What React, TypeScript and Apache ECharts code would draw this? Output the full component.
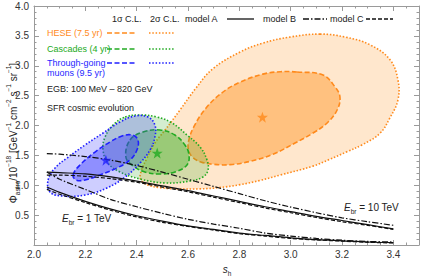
import React, { useEffect, useRef } from "react";
import * as echarts from "echarts";

// ---------- data ----------
const xTicks = [2.0, 2.2, 2.4, 2.6, 2.8, 3.0, 3.2, 3.4];
const yTicks = [0.5, 1.0, 1.5, 2.0, 2.5, 3.0, 3.5, 4.0];

const sGrid = [2.05, 2.1, 2.2, 2.3, 2.4, 2.5, 2.6, 2.7, 2.8, 2.9, 3.0, 3.1, 3.2, 3.3, 3.4];
// E_br = 10 TeV
const modelA10 = [1.22, 1.21, 1.19, 1.14, 1.07, 0.99, 0.91, 0.82, 0.73, 0.64, 0.56, 0.48, 0.41, 0.34, 0.27];
const modelB10 = [1.53, 1.52, 1.48, 1.42, 1.33, 1.22, 1.1, 0.98, 0.86, 0.74, 0.635, 0.54, 0.455, 0.39, 0.33];
const modelC10 = [1.17, 1.17, 1.15, 1.11, 1.05, 0.97, 0.89, 0.8, 0.71, 0.62, 0.54, 0.46, 0.39, 0.33, 0.26];
// E_br = 1 TeV
const modelA1 = [0.97, 0.88, 0.73, 0.6, 0.49, 0.4, 0.32, 0.26, 0.2, 0.16, 0.12, 0.09, 0.07, 0.05, 0.04];
const modelB1 = [1.22, 1.1, 0.93, 0.76, 0.64, 0.53, 0.43, 0.35, 0.28, 0.2, 0.15, 0.11, 0.08, 0.06, 0.05];
const modelC1 = [0.93, 0.85, 0.71, 0.58, 0.47, 0.38, 0.31, 0.25, 0.19, 0.15, 0.11, 0.085, 0.065, 0.045, 0.035];

// contours [s_h, Phi]
const heseTwoSigma = [
  [3.114, 3.53], [3.212, 3.48], [3.309, 3.35], [3.387, 3.1], [3.418, 2.76], [3.418, 2.43],
  [3.387, 2.13], [3.348, 1.87], [3.28, 1.68], [3.219, 1.56], [3.15, 1.43], [3.087, 1.32],
  [2.958, 1.17], [2.88, 1.08], [2.803, 1.01], [2.72, 0.96], [2.647, 0.94], [2.56, 0.94],
  [2.491, 0.96], [2.44, 1.01], [2.415, 1.1], [2.418, 1.24], [2.44, 1.45], [2.47, 1.7],
  [2.51, 1.92], [2.569, 2.26], [2.63, 2.62], [2.697, 2.95], [2.803, 3.23], [2.892, 3.38], [2.997, 3.48],
];
const heseOneSigma = [
  [3.025, 2.895], [3.126, 2.845], [3.173, 2.644], [3.192, 2.477], [3.181, 2.259], [3.142, 2.042],
  [3.087, 1.874], [3.017, 1.707], [2.931, 1.52], [2.842, 1.4], [2.764, 1.345], [2.7, 1.35],
  [2.65, 1.39], [2.618, 1.47], [2.602, 1.59], [2.603, 1.75], [2.623, 1.98], [2.668, 2.28],
  [2.73, 2.54], [2.8, 2.72], [2.892, 2.86], [2.96, 2.9],
];
const cascTwoSigma = [
  [2.355, 2.142], [2.413, 2.176], [2.479, 2.142], [2.538, 2.042], [2.596, 1.841], [2.647, 1.64],
  [2.674, 1.423], [2.678, 1.255], [2.658, 1.138], [2.608, 1.071], [2.51, 1.038], [2.413, 1.105],
  [2.335, 1.222], [2.288, 1.372], [2.269, 1.59], [2.277, 1.808], [2.308, 2.008],
];
const cascOneSigma = [
  [2.374, 1.757], [2.425, 1.891], [2.491, 1.925], [2.549, 1.841], [2.588, 1.674], [2.604, 1.506],
  [2.596, 1.339], [2.549, 1.222], [2.491, 1.188], [2.432, 1.222], [2.386, 1.322], [2.358, 1.473],
];
const muonTwoSigma = [
  [2.055, 1.088], [2.082, 1.289], [2.129, 1.456], [2.199, 1.674], [2.269, 1.874], [2.335, 2.059],
  [2.394, 2.159], [2.444, 2.142], [2.471, 2.008], [2.471, 1.808], [2.452, 1.59], [2.413, 1.372],
  [2.355, 1.138], [2.284, 0.954], [2.199, 0.837], [2.109, 0.82], [2.062, 0.887],
];
const muonOneSigma = [
  [2.152, 1.172], [2.179, 1.339], [2.238, 1.556], [2.296, 1.724], [2.343, 1.824], [2.382, 1.841],
  [2.405, 1.757], [2.401, 1.59], [2.374, 1.423], [2.323, 1.289], [2.257, 1.172], [2.199, 1.088], [2.164, 1.088],
];
const heseBest = [2.89, 2.14];
const cascBest = [2.48, 1.54];
const muonBest = [2.28, 1.42];

// ---------- styles ----------
const FONT = '"Liberation Sans", Arial, Helvetica, sans-serif';
const ORANGE = "#ff8a1c";
const GREEN = "#22aa22";
const BLUE = "#1f1fff";
const AXIS = "#9a9a9a";
const STAR = "path://M12,0 L14.9,8.1 L23.4,8.1 L16.6,13.2 L19.1,21.4 L12,16.4 L4.9,21.4 L7.4,13.2 L0.6,8.1 L9.1,8.1 Z";

const DASH = [5, 2.5];
const DOT = [1.5, 1.8];

function contour(pts: number[][], fill: string, stroke: string, dash: number[], z: number) {
  return {
    type: "custom",
    coordinateSystem: "cartesian2d",
    xAxisIndex: 0,
    yAxisIndex: 0,
    data: pts,
    encode: { x: 0, y: 1 },
    silent: true,
    z,
    renderItem: (params: any, api: any) => {
      if (params.dataIndex !== 0) return { type: "group", children: [] };
      return {
        type: "polygon",
        shape: { points: pts.map((p) => api.coord(p)), smooth: 0.4 },
        style: { fill, stroke, lineWidth: 1.6, lineDash: dash },
      };
    },
  };
}

function modelLine(vals: number[], type: any) {
  return {
    type: "line",
    data: sGrid.map((s, i) => [s, vals[i]]),
    showSymbol: false,
    smooth: 0.3,
    silent: true,
    z: 20,
    lineStyle: { color: "#111", width: 1.2, type },
  };
}

function star(p: number[], color: string) {
  return {
    type: "scatter",
    data: [p],
    symbol: STAR,
    symbolSize: 11,
    silent: true,
    z: 30,
    itemStyle: { color },
  };
}

function txt(x: number, y: number, text: string, fill: string, size = 9, extra: any = {}) {
  return {
    type: "text",
    x,
    y,
    silent: true,
    z: 50,
    style: {
      text,
      fill,
      font: `${size}px ${FONT}`,
      align: "left",
      textAlign: "left",
      verticalAlign: "middle",
      textVerticalAlign: "middle",
      ...extra,
    },
  };
}

function seg(x1: number, x2: number, y: number, stroke: string, dash: any, w = 1.6) {
  return {
    type: "line",
    silent: true,
    z: 50,
    shape: { x1, y1: y, x2, y2: y },
    style: { stroke, lineWidth: w, lineDash: dash },
  };
}

const richBase = {
  n: { fontSize: 10, fontFamily: FONT, fill: "#222", color: "#222", lineHeight: 16, verticalAlign: "middle" },
  i: { fontSize: 10, fontFamily: FONT, fontStyle: "italic", fill: "#222", color: "#222", lineHeight: 16, verticalAlign: "middle" },
  sup: { fontSize: 6.5, fontFamily: FONT, fill: "#222", color: "#222", lineHeight: 9, verticalAlign: "top" },
  sub: { fontSize: 6.5, fontFamily: FONT, fill: "#222", color: "#222", lineHeight: 9, verticalAlign: "bottom" },
};

function richText(x: number, y: number, text: string, align: string, rotation = 0) {
  return {
    type: "text",
    x,
    y,
    rotation,
    z: 50,
    silent: true,
    style: {
      text,
      rich: richBase,
      align,
      textAlign: align,
      verticalAlign: "middle",
      textVerticalAlign: "middle",
    },
  };
}

export default function App() {
  const ref = useRef<HTMLDivElement>(null);
  useEffect(() => {
    const chart = echarts.init(ref.current!, null, { renderer: "svg" });
    const axisCommon = {
      type: "value",
      axisLine: { show: true, onZero: false, lineStyle: { color: AXIS, width: 1 } },
      axisTick: { show: true, inside: true, length: 5, lineStyle: { color: AXIS } },
      minorTick: { show: true, length: 2.5, lineStyle: { color: AXIS } },
      splitLine: { show: false },
    };
    const option: any = {
      animation: false,
      backgroundColor: "#fff",
      grid: { left: 34, right: 2, top: 6, bottom: 31, containLabel: false, outerBoundsMode: "none" },
      xAxis: [
        {
          ...axisCommon,
          position: "bottom",
          min: 2,
          max: 3.5,
          interval: 0.2,
          minorTick: { ...axisCommon.minorTick, splitNumber: 4 },
          axisLabel: {
            show: true,
            margin: 4,
            color: "#333",
            fontSize: 10,
            fontFamily: FONT,
            formatter: (v: number) => (xTicks.some((t) => Math.abs(t - v) < 1e-6) ? v.toFixed(1) : ""),
          },
        },
        {
          ...axisCommon,
          position: "top",
          min: 2,
          max: 3.5,
          interval: 0.2,
          minorTick: { ...axisCommon.minorTick, splitNumber: 4 },
          axisLabel: { show: false },
        },
      ],
      yAxis: [
        {
          ...axisCommon,
          position: "left",
          min: 0,
          max: 4,
          interval: 0.5,
          minorTick: { ...axisCommon.minorTick, splitNumber: 5 },
          axisLabel: {
            show: true,
            margin: 5,
            color: "#333",
            fontSize: 10,
            fontFamily: FONT,
            formatter: (v: number) => (yTicks.some((t) => Math.abs(t - v) < 1e-6) ? v.toFixed(1) : ""),
          },
        },
        {
          ...axisCommon,
          position: "right",
          min: 0,
          max: 4,
          interval: 0.5,
          minorTick: { ...axisCommon.minorTick, splitNumber: 5 },
          axisLabel: { show: false },
        },
      ],
      series: [
        contour(heseTwoSigma, "rgba(255,140,20,0.21)", ORANGE, DOT, 1),
        contour(heseOneSigma, "rgba(255,140,20,0.42)", ORANGE, DASH, 2),
        contour(cascTwoSigma, "rgba(60,175,40,0.22)", GREEN, DOT, 3),
        contour(cascOneSigma, "rgba(60,175,40,0.38)", GREEN, DASH, 4),
        contour(muonTwoSigma, "rgba(50,50,255,0.24)", BLUE, DOT, 5),
        contour(muonOneSigma, "rgba(50,50,255,0.4)", BLUE, DASH, 6),
        modelLine(modelA10, "solid"),
        modelLine(modelB10, [6, 2, 1.5, 2]),
        modelLine(modelC10, [4, 2]),
        modelLine(modelA1, "solid"),
        modelLine(modelB1, [6, 2, 1.5, 2]),
        modelLine(modelC1, [4, 2]),
        star(heseBest, ORANGE),
        star(cascBest, GREEN),
        star(muonBest, BLUE),
      ],
      graphic: {
        elements: [
          // header row
          txt(112, 19, "1σ C.L.", "#222"),
          txt(150, 19, "2σ C.L.", "#222"),
          txt(185, 19, "model A", "#222"),
          seg(227, 254, 19, "#111", null, 1.3),
          txt(263, 19, "model B", "#222"),
          seg(303, 327, 19, "#111", [6, 2, 1.5, 2], 1.3),
          txt(330, 19, "model C", "#222"),
          seg(366, 393, 19, "#111", [4, 2], 1.3),
          // data sets
          txt(47, 33, "HESE (7.5 yr)", ORANGE),
          seg(107, 136, 33, ORANGE, DASH),
          seg(149, 175, 33, ORANGE, DOT),
          txt(47, 49, "Cascades (4 yr)", GREEN),
          seg(107, 136, 49, GREEN, DASH),
          seg(149, 175, 49, GREEN, DOT),
          txt(47, 63, "Through-going", BLUE),
          txt(47, 73, "muons (9.5 yr)", BLUE),
          seg(107, 136, 63, BLUE, DASH),
          seg(149, 175, 63, BLUE, DOT),
          txt(47, 89, "EGB: 100 MeV – 820 GeV", "#222"),
          txt(47, 108, "SFR cosmic evolution", "#222"),
          // annotations
          richText(62, 218, "{i|E}{sub|br}{n| = 1 TeV}", "left"),
          richText(344, 207, "{i|E}{sub|br}{n| = 10 TeV}", "left"),
          richText(227, 269, "{i|s}{sub|h}", "center"),
          richText(
            13,
            133,
            "{n|Φ}{sub|astro}{n|/10}{sup|−18}{n| [GeV}{sup|−1}{n| cm}{sup|−2}{n| s}{sup|−1}{n| sr}{sup|−1}{n|]}",
            "center",
            Math.PI / 2
          ),
        ],
      },
    };
    chart.setOption(option);
    return () => chart.dispose();
  }, []);
  return <div ref={ref} style={{ position: "absolute", left: 0, top: 0, width: 421, height: 276 }} />;
}
